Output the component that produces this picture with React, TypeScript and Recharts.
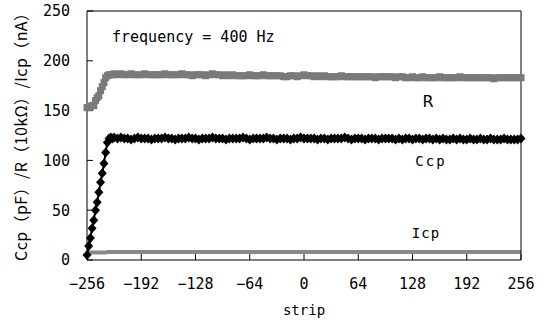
import React from 'react';
import { LineChart, Line, XAxis, YAxis } from 'recharts';

// strip positions: fine steps over the rising edge, then every 4 strips
const riseStrips = [-256, -254, -252, -250, -248, -246, -244, -242, -240, -238, -236, -234, -232, -230, -228, -226, -224];
const flatStrips = [
  -220, -216, -212, -208, -204, -200, -196, -192, -188, -184, -180, -176,
  -172, -168, -164, -160, -156, -152, -148, -144, -140, -136, -132, -128,
  -124, -120, -116, -112, -108, -104, -100, -96, -92, -88, -84, -80,
  -76, -72, -68, -64, -60, -56, -52, -48, -44, -40, -36, -32,
  -28, -24, -20, -16, -12, -8, -4, 0, 4, 8, 12, 16,
  20, 24, 28, 32, 36, 40, 44, 48, 52, 56, 60, 64,
  68, 72, 76, 80, 84, 88, 92, 96, 100, 104, 108, 112,
  116, 120, 124, 128, 132, 136, 140, 144, 148, 152, 156, 160,
  164, 168, 172, 176, 180, 184, 188, 192, 196, 200, 204, 208,
  212, 216, 220, 224, 228, 232, 236, 240, 244, 248, 252, 256,
];

const rRise = [153, 153, 154, 155, 155, 160, 163, 165, 170, 174, 178, 183, 185, 186, 186, 186, 187];
const rFlat = [
  186, 187, 186, 186, 187, 186, 186, 186, 187, 186, 186, 186,
  186, 186, 187, 186, 186, 186, 186, 187, 186, 186, 185, 186,
  186, 186, 185, 186, 187, 186, 186, 185, 186, 185, 186, 185,
  185, 185, 185, 186, 185, 185, 185, 186, 185, 185, 185, 185,
  185, 184, 184, 185, 185, 184, 185, 186, 185, 185, 184, 185,
  184, 185, 184, 184, 184, 184, 185, 184, 184, 184, 184, 184,
  184, 184, 184, 184, 183, 184, 184, 184, 184, 184, 183, 184,
  184, 183, 183, 184, 183, 183, 184, 183, 183, 183, 183, 184,
  183, 183, 183, 183, 183, 184, 183, 183, 183, 183, 183, 183,
  183, 183, 183, 182, 183, 183, 183, 183, 183, 183, 183, 183,
];

const ccpRise = [5, 14, 22, 32, 40, 50, 58, 68, 78, 87, 97, 108, 118, 122, 123, 122, 123];
const ccpFlat = [
  122, 123, 122, 122, 121, 122, 123, 122, 122, 122, 121, 122,
  122, 122, 123, 122, 122, 121, 122, 122, 122, 123, 122, 122,
  121, 122, 122, 122, 123, 122, 122, 122, 121, 122, 122, 122,
  122, 123, 122, 121, 122, 122, 122, 122, 123, 122, 122, 121,
  122, 122, 122, 121, 122, 122, 123, 122, 122, 122, 122, 121,
  122, 122, 121, 122, 122, 122, 122, 123, 122, 121, 122, 122,
  122, 121, 122, 122, 122, 121, 122, 122, 122, 122, 121, 122,
  121, 122, 122, 121, 122, 122, 121, 122, 122, 121, 122, 121,
  122, 121, 121, 122, 121, 122, 121, 121, 122, 121, 121, 122,
  121, 121, 122, 121, 121, 121, 122, 121, 121, 121, 121, 122,
];

const icpRise = [7.5, 7.5, 7.5, 7.5, 7.5, 7.5, 7.5, 7.5, 7.5, 7.5, 7.5, 7.5, 8, 8, 8, 8, 8];
const icpFlat = [
  8, 8, 8, 8, 8, 8, 8, 8, 8, 8, 8, 8,
  8, 8, 8, 8, 8, 8, 8, 8, 8, 8, 8, 8,
  8, 8, 8, 8, 8, 8, 8, 8, 8, 8, 8, 8,
  8, 8, 8, 8, 8, 8, 8, 8, 8, 8, 8, 8,
  8, 8, 8, 8, 8, 8, 8, 8, 8, 8, 8, 8,
  8, 8, 8, 8, 8, 8, 8, 8, 8, 8, 8, 8,
  8, 8, 8, 8, 8, 8, 8, 8, 8, 8, 8, 8,
  8, 8, 8, 8, 8, 8, 8, 8, 8, 8, 8, 8,
  8, 8, 8, 8, 8, 8, 8, 8, 8, 8, 8, 8,
  8, 8, 8, 8, 8, 8, 8, 8, 8, 8, 8, 8,
];

const xTicks = [-256, -192, -128, -64, 0, 64, 128, 192, 256];
const yTicks = [0, 50, 100, 150, 200, 250];

const strips = [...riseStrips, ...flatStrips];
const rValues = [...rRise, ...rFlat];
const ccpValues = [...ccpRise, ...ccpFlat];
const icpValues = [...icpRise, ...icpFlat];

const data = strips.map((s, i) => ({ strip: s, R: rValues[i], Ccp: ccpValues[i], Icp: icpValues[i] }));

const tickFont = { fontFamily: 'DejaVu Sans Mono', fontSize: 15, fill: '#000' };
const fmt = (v: number) => (v < 0 ? `\u2212${-v}` : `${v}`);

const SquareDot = (props: any) => {
  const { cx, cy, index } = props;
  if (cx == null || cy == null) return <g key={index} />;
  return <rect key={index} x={cx - 3.5} y={cy - 3.5} width={7} height={7} fill="#7a7a7a" />;
};

const DiamondDot = (props: any) => {
  const { cx, cy, index } = props;
  if (cx == null || cy == null) return <g key={index} />;
  const d = `M${cx},${cy - 5}L${cx + 4.5},${cy}L${cx},${cy + 5}L${cx - 4.5},${cy}Z`;
  return <path key={index} d={d} fill="#000" />;
};

export default function App() {
  return (
    <div style={{ position: 'absolute', left: 0, top: 0, width: 549, height: 326, background: '#fff' }}>
      <LineChart width={549} height={326} data={data} margin={{ top: 10, right: 27, bottom: 36, left: 27 }}>
        <XAxis
          type="number"
          dataKey="strip"
          domain={[-256, 256]}
          ticks={xTicks}
          tickFormatter={fmt}
          tickSize={-6}
          tickMargin={24}
          height={30}
          axisLine={{ stroke: '#000' }}
          tickLine={{ stroke: '#000' }}
          tick={tickFont}
          interval={0}
        />
        <XAxis
          xAxisId="top"
          orientation="top"
          type="number"
          domain={[-256, 256]}
          ticks={xTicks}
          tickSize={-6}
          height={1}
          tick={false}
          axisLine={{ stroke: '#000' }}
          tickLine={{ stroke: '#000' }}
        />
        <YAxis
          type="number"
          domain={[0, 250]}
          ticks={yTicks}
          tickSize={-6}
          tickMargin={23}
          width={60}
          axisLine={{ stroke: '#000' }}
          tickLine={{ stroke: '#000' }}
          tick={tickFont}
          interval={0}
        />
        <YAxis
          yAxisId="right"
          orientation="right"
          type="number"
          domain={[0, 250]}
          ticks={yTicks}
          tickSize={-6}
          width={1}
          tick={false}
          axisLine={{ stroke: '#000' }}
          tickLine={{ stroke: '#000' }}
        />
        <Line dataKey="Icp" stroke="#8a8a8a" strokeWidth={4} dot={false} isAnimationActive={false} />
        <Line dataKey="R" stroke="#7a7a7a" strokeWidth={1} dot={SquareDot} isAnimationActive={false} />
        <Line dataKey="Ccp" stroke="#000" strokeWidth={2} dot={DiamondDot} isAnimationActive={false} />
      </LineChart>
      <svg width={549} height={326} style={{ position: 'absolute', left: 0, top: 0, pointerEvents: 'none' }}>
        <text
          x={20}
          y={133}
          transform="rotate(-90 20 133)"
          textAnchor="middle"
          dominantBaseline="central"
          fontFamily="Noto Sans CJK JP"
          fontSize={16}
          textLength={256}
          lengthAdjust="spacing"
        >
          Ccp（pF）/R（10kΩ）/Icp（nA）
        </text>
        <text x={112} y={42} fontFamily="DejaVu Sans Mono" fontSize={15}>frequency = 400 Hz</text>
        <text x={428} y={107} textAnchor="middle" fontFamily="DejaVu Sans" fontSize={16}>R</text>
        <text x={431} y={166} textAnchor="middle" fontFamily="DejaVu Sans Mono" fontSize={14} letterSpacing={2}>Ccp</text>
        <text x={426} y={238} textAnchor="middle" fontFamily="DejaVu Sans Mono" fontSize={14} letterSpacing={1}>Icp</text>
        <text x={304} y={315} textAnchor="middle" fontFamily="DejaVu Sans Mono" fontSize={14}>strip</text>
      </svg>
    </div>
  );
}
